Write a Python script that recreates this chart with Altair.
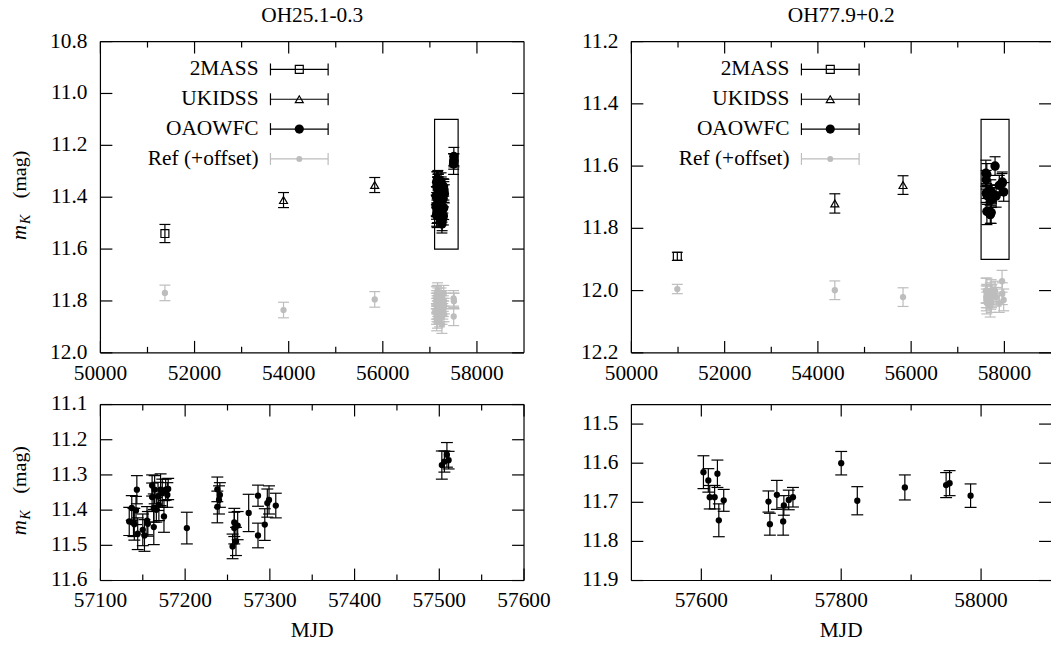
import altair as alt
import pandas as pd

FONT = "Liberation Serif"
FS = 21.5
GRAY = "#bdbdbd"

# ---------------- OH25.1-0.3 ----------------
oh25_2mass_mjd = [51370]
oh25_2mass_mag = [11.540]
oh25_2mass_err = [0.035]

oh25_ukidss_mjd = [53890, 55828]
oh25_ukidss_mag = [11.411, 11.353]
oh25_ukidss_err = [0.029, 0.029]

oh25_oao_mjd = [57134, 57137, 57139, 57140, 57143, 57142, 57144,
                57150, 57152, 57155, 57156,
                57161, 57161, 57163, 57163, 57164, 57166, 57168, 57169, 57171, 57173, 57175, 57177, 57179, 57180,
                57202,
                57238, 57238, 57240, 57241,
                57256, 57258, 57258, 57260, 57262,
                57275,
                57286, 57286,
                57294, 57297, 57299, 57307,
                57503, 57506, 57509, 57511]
oh25_oao_mag = [11.432, 11.394, 11.435, 11.440, 11.342, 11.401, 11.467,
                11.456, 11.472, 11.430, 11.439,
                11.330, 11.363, 11.448, 11.394, 11.342, 11.399, 11.361, 11.385, 11.342, 11.352, 11.418, 11.342, 11.357, 11.340,
                11.451,
                11.341, 11.391, 11.371, 11.357,
                11.503, 11.451, 11.435, 11.489, 11.444,
                11.408,
                11.359, 11.472,
                11.441, 11.380, 11.371, 11.387,
                11.272, 11.262, 11.243, 11.258]
oh25_oao_err = [0.040, 0.035, 0.040, 0.045, 0.040, 0.040, 0.045,
                0.045, 0.045, 0.040, 0.035,
                0.030, 0.040, 0.050, 0.040, 0.040, 0.035, 0.040, 0.045, 0.045, 0.040, 0.045, 0.030, 0.035, 0.030,
                0.045,
                0.035, 0.045, 0.040, 0.035,
                0.035, 0.045, 0.040, 0.040, 0.040,
                0.053,
                0.030, 0.035,
                0.045, 0.040, 0.040, 0.035,
                0.040, 0.030, 0.035, 0.025]

# reference star (shifted by an offset) at the archival and OAOWFC epochs
oh25_ref_mjd = [51370, 53890, 55828] + oh25_oao_mjd
oh25_ref_mag = [11.769, 11.835, 11.794,
                11.80, 11.84, 11.78, 11.86, 11.82, 11.79, 11.88,
                11.85, 11.81, 11.77, 11.80,
                11.84, 11.87, 11.79, 11.82, 11.76, 11.83, 11.81, 11.85, 11.78, 11.80, 11.86, 11.82, 11.79, 11.84,
                11.87,
                11.81, 11.78, 11.83, 11.85,
                11.89, 11.80, 11.82, 11.86, 11.79,
                11.84,
                11.81, 11.83,
                11.77, 11.80, 11.85, 11.82,
                11.79, 11.86, 11.80, 11.80]
oh25_ref_err = [0.030, 0.030, 0.030,
                0.030, 0.030, 0.035, 0.030, 0.030, 0.030, 0.035,
                0.030, 0.030, 0.030, 0.030,
                0.030, 0.035, 0.030, 0.030, 0.030, 0.030, 0.030, 0.030, 0.030, 0.030, 0.030, 0.030, 0.030, 0.030,
                0.030,
                0.030, 0.030, 0.030, 0.030,
                0.035, 0.030, 0.030, 0.030, 0.030,
                0.030,
                0.030, 0.030,
                0.030, 0.030, 0.030, 0.030,
                0.030, 0.035, 0.030, 0.030]

# ---------------- OH77.9+0.2 ----------------
oh77_2mass_mjd = [50985]
oh77_2mass_mag = [11.890]
oh77_2mass_err = [0.013]

oh77_ukidss_mjd = [54363, 55826]
oh77_ukidss_mag = [11.720, 11.661]
oh77_ukidss_err = [0.031, 0.030]

oh77_oao_mjd = [57603, 57610, 57612, 57619, 57623, 57625, 57632,
                57696, 57698, 57708, 57717, 57718, 57725, 57731,
                57800, 57823, 57891, 57950, 57955, 57985]
oh77_oao_mag = [11.623, 11.644, 11.687, 11.687, 11.627, 11.746, 11.695,
                11.698, 11.756, 11.681, 11.749, 11.708, 11.694, 11.687,
                11.600, 11.696, 11.662, 11.656, 11.651, 11.683]
oh77_oao_err = [0.042, 0.030, 0.030, 0.030, 0.035, 0.042, 0.028,
                0.027, 0.028, 0.037, 0.035, 0.025, 0.025, 0.025,
                0.030, 0.036, 0.032, 0.032, 0.032, 0.030]

oh77_ref_mjd = [50985, 54363, 55826] + oh77_oao_mjd
oh77_ref_mag = [11.995, 11.999, 12.021,
                12.00, 12.02, 12.03, 12.01, 12.04, 12.00, 12.02,
                12.05, 12.01, 12.03, 12.00, 12.04, 12.02, 12.01,
                12.00, 12.02, 12.04, 11.97, 12.01, 12.03]
oh77_ref_err = [0.015, 0.030, 0.030,
                0.040, 0.035, 0.035, 0.030, 0.035, 0.040, 0.035,
                0.035, 0.035, 0.030, 0.035, 0.030, 0.035, 0.030,
                0.030, 0.030, 0.030, 0.035, 0.035, 0.035]

# ---------------- axes ----------------
full_mjd = [50000, 59000]
full_major = [50000, 52000, 54000, 56000, 58000]
full_minor = [51000, 53000, 55000, 57000]

oh25_full_mag = [10.8, 12.0]
oh25_full_yticks = [10.8, 11.0, 11.2, 11.4, 11.6, 11.8, 12.0]
oh77_full_mag = [11.2, 12.2]
oh77_full_yticks = [11.2, 11.4, 11.6, 11.8, 12.0, 12.2]

# zoomed windows (also outlined by the rectangles in the upper panels)
oh25_zoom_mjd = [57100, 57600]
oh25_zoom_mag = [11.1, 11.6]
oh25_zoom_major = [57100, 57200, 57300, 57400, 57500, 57600]
oh25_zoom_minor = [57150, 57250, 57350, 57450, 57550]
oh25_zoom_yticks = [11.1, 11.2, 11.3, 11.4, 11.5, 11.6]

oh77_zoom_mjd = [57500, 58100]
oh77_zoom_mag = [11.45, 11.9]
oh77_zoom_major = [57600, 57800, 58000]
oh77_zoom_minor = [57700, 57900]
oh77_zoom_yticks = [11.5, 11.6, 11.7, 11.8, 11.9]

legend_labels = ["2MASS", "UKIDSS", "OAOWFC", "Ref (+offset)"]

one = pd.DataFrame({"k": [0]})
SW = 1.2


def table(mjd, mag, err):
    df = pd.DataFrame({"mjd": mjd, "mag": mag, "err": err})
    df["lo"] = df["mag"] - df["err"]
    df["hi"] = df["mag"] + df["err"]
    return df


def px_rule(color="black", sw=SW, **pos):
    return alt.Chart(one).mark_rule(color=color, strokeWidth=sw).encode(
        **{k: alt.value(v) for k, v in pos.items()})


def px_text(text, x, y, size=FS, align="center", baseline="alphabetic", angle=None, italic=False):
    props = dict(text=text, font=FONT, fontSize=size, align=align, baseline=baseline, color="black")
    if angle is not None:
        props["angle"] = angle
    if italic:
        props["fontStyle"] = "italic"
    return alt.Chart(one).mark_text(**props).encode(x=alt.value(x), y=alt.value(y))


def errorbars(df, xs, ys, color, cap):
    base = alt.Chart(df)
    X = alt.X("mjd:Q", scale=xs, axis=None)
    return [
        base.mark_rule(color=color, strokeWidth=SW).encode(
            x=X, y=alt.Y("lo:Q", scale=ys, axis=None), y2="hi:Q"),
        base.mark_tick(orient="horizontal", size=cap, thickness=SW, color=color, opacity=1).encode(
            x=X, y=alt.Y("lo:Q", scale=ys, axis=None)),
        base.mark_tick(orient="horizontal", size=cap, thickness=SW, color=color, opacity=1).encode(
            x=X, y=alt.Y("hi:Q", scale=ys, axis=None)),
    ]


def points(df, xs, ys, shape, filled, size, color):
    return alt.Chart(df).mark_point(
        shape=shape, filled=filled, size=size, color=color, opacity=1, strokeWidth=SW
    ).encode(x=alt.X("mjd:Q", scale=xs, axis=None), y=alt.Y("mag:Q", scale=ys, axis=None))


def frame_and_ticks(xs, ys, xmajor, xminor, yticks, w, h, right_border):
    big, small = 12, 6
    xm = alt.Chart(pd.DataFrame({"v": xmajor}))
    xn = alt.Chart(pd.DataFrame({"v": xminor}))
    yt = alt.Chart(pd.DataFrame({"v": yticks}))
    r = dict(color="black", strokeWidth=SW)
    X = alt.X("v:Q", scale=xs, axis=None)
    Y = alt.Y("v:Q", scale=ys, axis=None)
    txt = dict(font=FONT, fontSize=FS, color="black")
    out = [
        xm.mark_rule(**r).encode(x=X, y=alt.value(h - big), y2=alt.value(h)),
        xm.mark_rule(**r).encode(x=X, y=alt.value(0), y2=alt.value(big)),
        xn.mark_rule(**r).encode(x=X, y=alt.value(h - small), y2=alt.value(h)),
        xn.mark_rule(**r).encode(x=X, y=alt.value(0), y2=alt.value(small)),
        yt.mark_rule(**r).encode(y=Y, x=alt.value(0), x2=alt.value(big)),
        yt.mark_rule(**r).encode(y=Y, x=alt.value(w - big), x2=alt.value(w)),
        # tick labels
        xm.mark_text(align="center", baseline="alphabetic", **txt).encode(
            x=X, y=alt.value(h + 27), text=alt.Text("v:Q", format="d")),
        yt.mark_text(align="right", baseline="middle", **txt).encode(
            y=Y, x=alt.value(-13), text=alt.Text("v:Q", format=".1f")),
        # frame
        px_rule(x=0, x2=w, y=0),
        px_rule(x=0, x2=w, y=h),
        px_rule(x=0, y=0, y2=h),
    ]
    if right_border:
        out.append(px_rule(x=w, y=0, y2=h))
    return out


def ylabel(h):
    # italic m with a subscript K, then the unit, all reading bottom to top
    c = h / 2
    return [
        px_text("m", -75, c + 43, size=21, align="left", angle=270, italic=True),
        px_text("K", -71, c + 27, size=14, align="left", angle=270, italic=True),
        px_text("(mag)", -75, c + 1, size=20, align="left", angle=270),
    ]


def legend():
    rows = [28, 58, 88, 118]
    styles = [("square", False, 64, "black"), ("triangle-up", False, 64, "black"),
              ("circle", True, 85, "black"), ("circle", True, 36, GRAY)]
    out = []
    for lab, ry, (shape, filled, size, col) in zip(legend_labels, rows, styles):
        out.append(px_text(lab, 159, ry, align="right", baseline="middle"))
        out.append(px_rule(col, x=171, x2=229, y=ry))
        out.append(px_rule(col, x=171, y=ry - 6, y2=ry + 6))
        out.append(px_rule(col, x=229, y=ry - 6, y2=ry + 6))
        out.append(alt.Chart(one).mark_point(
            shape=shape, filled=filled, size=size, color=col, opacity=1, strokeWidth=SW
        ).encode(x=alt.value(200), y=alt.value(ry)))
    return out


def overview(title, twomass, ukidss, oao, ref, ydom, yticks, zoom_x, zoom_y, w, h, left):
    xs = alt.Scale(domain=full_mjd, nice=False, zero=False)
    ys = alt.Scale(domain=ydom, reverse=True, nice=False, zero=False)
    box = pd.DataFrame({"x1": [zoom_x[0]], "x2": [zoom_x[1]], "y1": [zoom_y[0]], "y2": [zoom_y[1]]})
    layers = frame_and_ticks(xs, ys, full_major, full_minor, yticks, w, h, left)
    layers.append(alt.Chart(box).mark_rect(fill="white", fillOpacity=0, stroke="black", strokeWidth=SW).encode(
        x=alt.X("x1:Q", scale=xs, axis=None), x2="x2:Q",
        y=alt.Y("y1:Q", scale=ys, axis=None), y2="y2:Q"))
    layers += errorbars(ref, xs, ys, GRAY, 11)
    layers.append(points(ref, xs, ys, "circle", True, 40, GRAY))
    layers += errorbars(twomass, xs, ys, "black", 11)
    layers.append(points(twomass, xs, ys, "square", False, 64, "black"))
    layers += errorbars(ukidss, xs, ys, "black", 11)
    layers.append(points(ukidss, xs, ys, "triangle-up", False, 64, "black"))
    layers += errorbars(oao, xs, ys, "black", 11)
    layers.append(points(oao, xs, ys, "circle", True, 90, "black"))
    layers += legend()
    layers.append(px_text(title, w / 2, -20))
    if left:
        layers += ylabel(h)
    return alt.layer(*layers).properties(width=w, height=h)


def zoomed(oao, xdom, ydom, xmajor, xminor, yticks, w, h, left):
    xs = alt.Scale(domain=xdom, nice=False, zero=False)
    ys = alt.Scale(domain=ydom, reverse=True, nice=False, zero=False)
    layers = frame_and_ticks(xs, ys, xmajor, xminor, yticks, w, h, left)
    layers += errorbars(oao, xs, ys, "black", 12)
    layers.append(points(oao, xs, ys, "circle", True, 40, "black"))
    layers.append(px_text("MJD", w / 2, h + 51, baseline="middle"))
    if left:
        layers += ylabel(h)
    return alt.layer(*layers).properties(width=w, height=h)


W_L, W_R, H_T, H_B = 426, 422, 313, 177

tl = overview("OH25.1-0.3",
              table(oh25_2mass_mjd, oh25_2mass_mag, oh25_2mass_err),
              table(oh25_ukidss_mjd, oh25_ukidss_mag, oh25_ukidss_err),
              table(oh25_oao_mjd, oh25_oao_mag, oh25_oao_err),
              table(oh25_ref_mjd, oh25_ref_mag, oh25_ref_err),
              oh25_full_mag, oh25_full_yticks, oh25_zoom_mjd, oh25_zoom_mag, W_L, H_T, True)
tr = overview("OH77.9+0.2",
              table(oh77_2mass_mjd, oh77_2mass_mag, oh77_2mass_err),
              table(oh77_ukidss_mjd, oh77_ukidss_mag, oh77_ukidss_err),
              table(oh77_oao_mjd, oh77_oao_mag, oh77_oao_err),
              table(oh77_ref_mjd, oh77_ref_mag, oh77_ref_err),
              oh77_full_mag, oh77_full_yticks, oh77_zoom_mjd, oh77_zoom_mag, W_R, H_T, False)
bl = zoomed(table(oh25_oao_mjd, oh25_oao_mag, oh25_oao_err), oh25_zoom_mjd, oh25_zoom_mag,
            oh25_zoom_major, oh25_zoom_minor, oh25_zoom_yticks, W_L, H_B, True)
br = zoomed(table(oh77_oao_mjd, oh77_oao_mag, oh77_oao_err), oh77_zoom_mjd, oh77_zoom_mag,
            oh77_zoom_major, oh77_zoom_minor, oh77_zoom_yticks, W_R, H_B, False)

chart = alt.concat(tl, tr, bl, br, columns=2, spacing={"row": 52, "column": 108}, bounds="flush").properties(
    padding={"left": 8, "top": 2, "right": 0, "bottom": 0}
).configure_view(stroke="transparent")

chart.save("out.html", embed_options={"renderer": "svg", "actions": False})
